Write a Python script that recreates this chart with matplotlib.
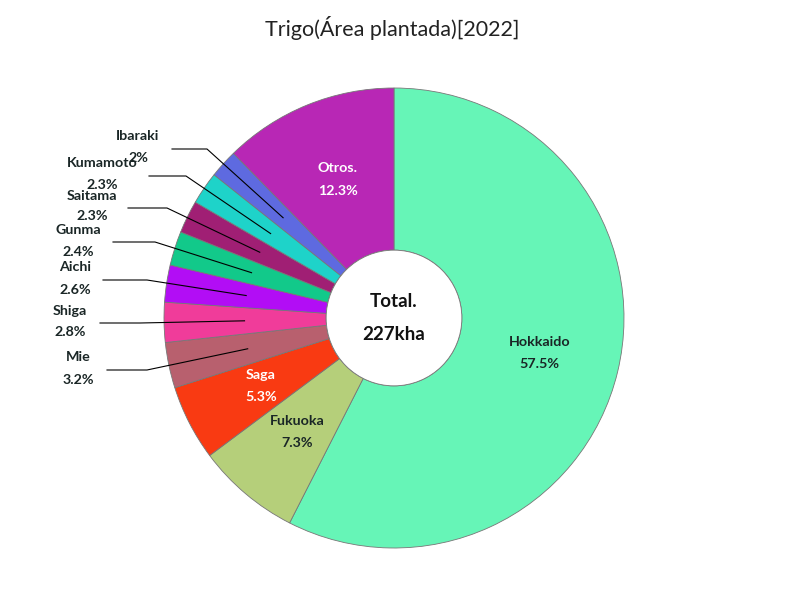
import matplotlib
matplotlib.use("Agg")
import matplotlib.pyplot as plt
import numpy as np

title = "Trigo(Área plantada)[2022]"
categories = ["Hokkaido", "Fukuoka", "Saga", "Mie", "Shiga", "Aichi", "Gunma",
              "Saitama", "Kumamoto", "Ibaraki", "Otros."]
shares = [57.5, 7.3, 5.3, 3.2, 2.8, 2.6, 2.4, 2.3, 2.3, 2.0, 12.3]
pct_labels = ["57.5%", "7.3%", "5.3%", "3.2%", "2.8%", "2.6%", "2.4%",
              "2.3%", "2.3%", "2%", "12.3%"]
center_label = ["Total.", "227kha"]

colors = ["#66F5B7", "#B5CF7A", "#F93A12", "#B8606E", "#F03C9A", "#B20DF5",
          "#12C98A", "#A01F74", "#1ED3C9", "#5E6AE0", "#B827B5"]
inside_text_colors = {"Hokkaido": "#1a2626", "Fukuoka": "#1a2626",
                      "Saga": "white", "Otros.": "white"}

# layout for outside labels (pixel positions): text x, name y, pct y, line y, line x start, elbow x
outside_layout = {
    "Ibaraki":  (138, 136, 158, 149, 172, 207),
    "Kumamoto": (102, 163, 185, 176, 149, 186),
    "Saitama":  (92, 196, 216, 208, 128, 167),
    "Gunma":    (78, 230, 252, 242, 113, 155),
    "Aichi":    (75, 267, 290, 280, 103, 147),
    "Shiga":    (70, 311, 332, 323, 100, 140),
    "Mie":      (78, 357, 380, 370, 107, 147),
}

CX, CY, R = 394, 318, 230.0

def px(x, y):
    return (x - CX) / R, (CY - y) / R

fig = plt.figure(figsize=(8, 6), dpi=100)
ax = fig.add_axes([0, 0, 1, 1])
ax.axis("off")

font = "Lato"
lab_fs = 10.3

wedges, _ = ax.pie(shares, colors=colors, startangle=90, counterclock=False,
                   radius=1.0, center=(0, 0),
                   wedgeprops=dict(width=0.705, edgecolor="#777777", linewidth=0.6))
ax.set_xlim(-CX / R, (800 - CX) / R)
ax.set_ylim(-(600 - CY) / R, CY / R)
ax.set_aspect("equal")

hole = plt.Circle((0, 0), 0.295, facecolor="white", edgecolor="#777777", linewidth=0.6, zorder=3)
ax.add_patch(hole)

ax.text(0, 0.07, center_label[0], ha="center", va="center", fontsize=13.5,
        family=font, fontweight="bold", color="#111111", zorder=4)
ax.text(0, -0.07, center_label[1], ha="center", va="center", fontsize=13.5,
        family=font, fontweight="bold", color="#111111", zorder=4)

r_lab = 0.65
for w, name, pct in zip(wedges, categories, pct_labels):
    mid = np.deg2rad((w.theta1 + w.theta2) / 2)
    mx, my = r_lab * np.cos(mid), r_lab * np.sin(mid)
    if name in outside_layout:
        tx, ny, py, ly, lx0, lx1 = outside_layout[name]
        ax.text(*px(tx, ny), name, ha="center", va="center", fontsize=lab_fs,
                family=font, fontweight="bold", color="#1a2626")
        ax.text(*px(tx, py), pct, ha="center", va="center", fontsize=lab_fs,
                family=font, fontweight="bold", color="#1a2626")
        x0, y0 = px(lx0, ly)
        x1, _ = px(lx1, ly)
        ax.plot([x0, x1, mx], [y0, y0, my], color="black", linewidth=0.8, zorder=5)
    else:
        c = inside_text_colors.get(name, "#1a2626")
        ax.text(mx, my + 0.048, name, ha="center", va="center", fontsize=lab_fs,
                family=font, fontweight="bold", color=c, zorder=4)
        ax.text(mx, my - 0.048, pct, ha="center", va="center", fontsize=lab_fs,
                family=font, fontweight="bold", color=c, zorder=4)

ax.text(*px(392, 28), title, ha="center", va="center", fontsize=15.5,
        family=font, color="#222222")

fig.savefig("out.png", dpi=100)
